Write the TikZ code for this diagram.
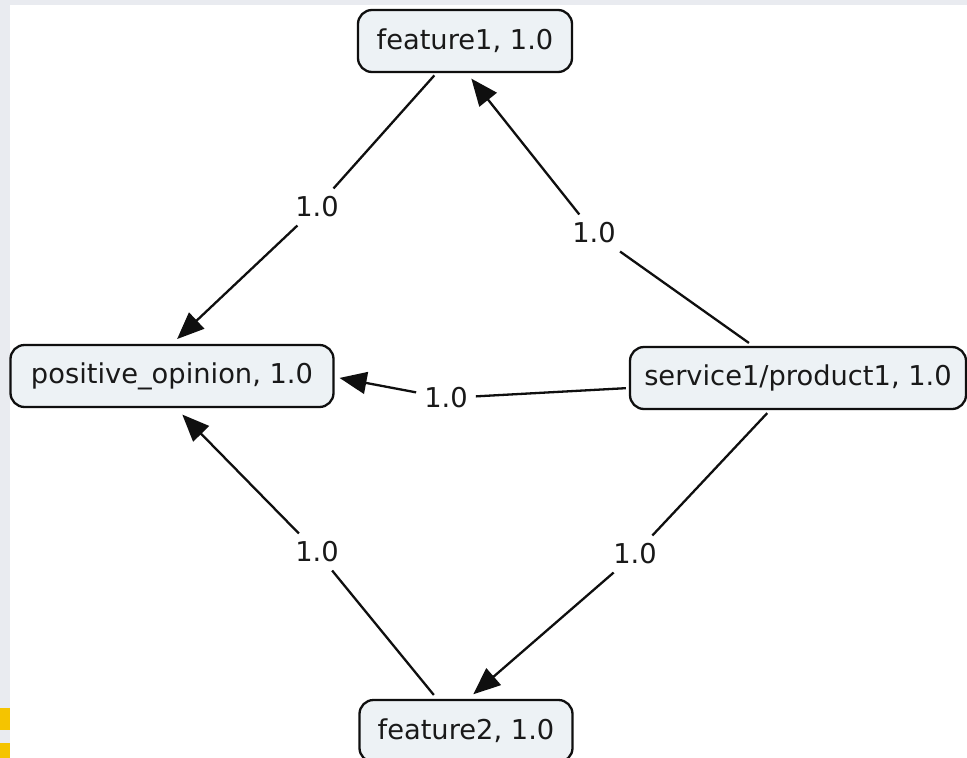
\documentclass[tikz,border=0pt]{standalone}
\usepackage{fontspec}
\setmainfont{DejaVu Sans}
\usetikzlibrary{arrows.meta}
\definecolor{boxfill}{RGB}{237,242,245}
\definecolor{edgecol}{RGB}{15,15,15}
\definecolor{txtcol}{RGB}{25,25,25}
\definecolor{bgstrip}{RGB}{233,235,240}
\definecolor{accent}{RGB}{245,196,0}
\tikzset{
  concept/.style={draw=edgecol, line width=2.3pt, rounded corners=14pt, fill=boxfill,
    minimum height=62pt, inner xsep=0pt, font=\fontsize{27.3}{32}\selectfont, text=txtcol},
  linkphrase/.style={inner sep=8pt, font=\fontsize{27.3}{32}\selectfont, text=txtcol},
  conn/.style={draw=edgecol, line width=2.3pt},
  arr/.style={conn, -{Triangle[length=27pt,width=22pt]}},
}
\begin{document}
\begin{tikzpicture}[x=1pt,y=-1pt]
\useasboundingbox (0,0) rectangle (967,758);
\fill[white] (0,0) rectangle (967,758);
\fill[bgstrip] (0,0) rectangle (967,5);
\fill[bgstrip] (0,0) rectangle (10,708);
\fill[accent] (0,708) rectangle (10,730);
\fill[bgstrip] (0,730) rectangle (10,743);
\fill[accent] (0,743) rectangle (10,758);

% concepts
\node[concept, minimum width=214pt] (f1) at (465,41) {feature1, 1.0};
\node[concept, minimum width=323pt] (pos) at (172,376) {positive\_opinion, 1.0};
\node[concept, minimum width=336pt] (serv) at (798,378) {service1/product1, 1.0};
\node[concept, minimum width=213pt] (f2) at (466,731) {feature2, 1.0};

% linking phrases
\node[linkphrase] (l1) at (317,207) {1.0};
\node[linkphrase] (l2) at (594,233) {1.0};
\node[linkphrase] (l3) at (446,398) {1.0};
\node[linkphrase] (l4) at (317,552) {1.0};
\node[linkphrase] (l5) at (635,554) {1.0};

% connectors
\draw[conn, shorten <=3pt] (f1) -- (l1);
\draw[arr, shorten >=7pt] (l1) -- (pos.north);

\draw[conn, shorten >=5pt] (l2) -- ([xshift=-45pt]serv.north);
\draw[arr, shorten >=7pt] (l2) -- ([xshift=2pt]f1.south);

\draw[conn, shorten >=3pt] (l3) -- ([yshift=-10pt]serv.west);
\draw[arr, shorten >=5pt] (l3) -- ([yshift=-1pt]pos.east);

\draw[conn, shorten >=5pt] (l4) -- ([xshift=-29pt]f2.north);
\draw[arr, shorten >=9pt] (l4) -- ([xshift=4pt]pos.south);

\draw[conn, shorten >=4pt] (l5) -- ([xshift=-28pt]serv.south);
\draw[arr, shorten >=7pt] (l5) -- ([xshift=2pt]f2.north);
\end{tikzpicture}
\end{document}
